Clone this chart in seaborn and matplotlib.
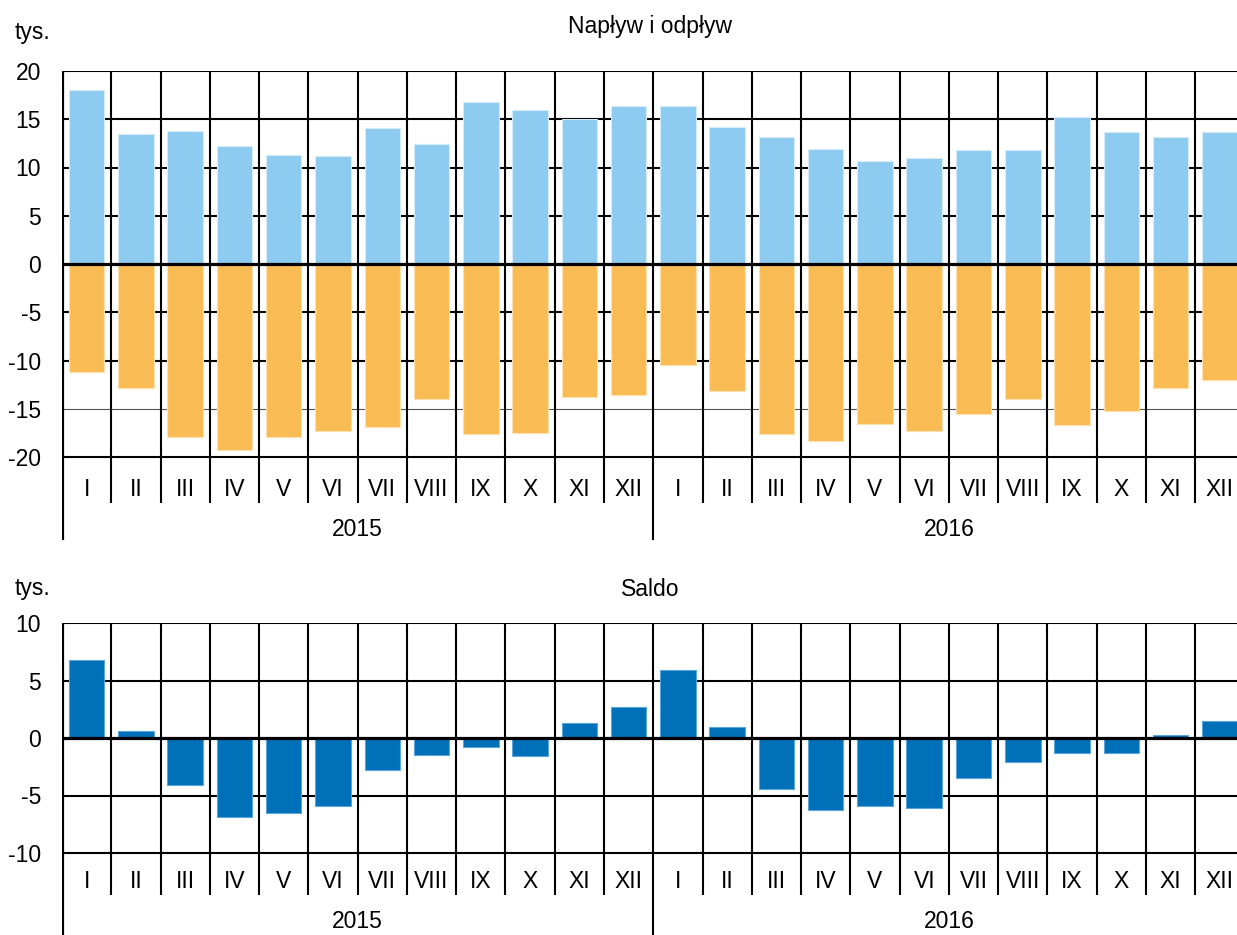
import numpy as np
import pandas as pd
import matplotlib
matplotlib.use("Agg")
import matplotlib.pyplot as plt
import seaborn as sns

# ---------- DATA ----------
MONTHS = ["I", "II", "III", "IV", "V", "VI", "VII", "VIII", "IX", "X", "XI", "XII"]
YEARS = ["2015", "2016"]
naplyw = [18.0, 13.5, 13.8, 12.2, 11.3, 11.2, 14.1, 12.4, 16.8, 16.0, 15.0, 16.4,
          16.4, 14.2, 13.2, 11.9, 10.7, 11.0, 11.8, 11.8, 15.2, 13.7, 13.2, 13.7]
odplyw = [-11.2, -12.8, -17.9, -19.3, -17.9, -17.3, -16.9, -14.0, -17.6, -17.5, -13.8, -13.6,
          -10.5, -13.2, -17.6, -18.3, -16.6, -17.3, -15.5, -14.0, -16.7, -15.2, -12.8, -12.0]
saldo = [6.8, 0.6, -4.1, -6.9, -6.5, -5.9, -2.8, -1.5, -0.8, -1.6, 1.3, 2.7,
         5.9, 1.0, -4.4, -6.3, -5.9, -6.1, -3.5, -2.1, -1.3, -1.3, 0.3, 1.5]

LIGHT_BLUE = "#8ecbf0"
ORANGE = "#f9bc55"
DARK_BLUE = "#0070b8"
# --------------------------

df = pd.DataFrame({"pos": range(len(naplyw)), "naplyw": naplyw,
                   "odplyw": odplyw, "saldo": saldo})

sns.set_style("white")
plt.rcParams["font.family"] = ["Liberation Sans", "DejaVu Sans"]
plt.rcParams["font.size"] = 16.5
plt.rcParams["text.color"] = "black"
plt.rcParams["ytick.color"] = "black"
plt.rcParams["ytick.labelcolor"] = "black"

W, H = 1237, 935
FS = 16.5
fig = plt.figure(figsize=(W / 100, H / 100), dpi=100)

n = len(naplyw)
cat_w = 49.27  # px per month
ax_left = 62 / W
ax_width = n * cat_w / W

GRID_LW = 1.5
ZERO_LW = 2.3


def setup_panel(ax, ymin, ymax, yticks, month_y, year_y, vline_bottom, thin_lines=()):
    ax.set_xlim(-0.5, n - 0.5)
    ax.set_ylim(ymin, ymax)
    ax.patch.set_alpha(0)
    for s in ax.spines.values():
        s.set_visible(False)
    ax.set_xticks([])
    ax.set_xlabel("")
    ax.set_ylabel("")
    ax.set_yticks(yticks)
    ax.set_yticklabels([str(t) for t in yticks])
    ax.tick_params(axis="y", length=0, pad=15, labelsize=FS)
    # horizontal grid
    for t in yticks:
        if t == 0:
            continue
        if t in thin_lines:
            ax.hlines(t, -0.5, n - 0.5, color="#555555", lw=0.8, zorder=1)
        else:
            ax.hlines(t, -0.5, n - 0.5, color="black", lw=GRID_LW, zorder=1)
    ax.axhline(0, color="black", lw=ZERO_LW, zorder=5)
    # month separators
    for k in range(1, n + 1):
        x = k - 0.5
        if k % 12 == 0 and k < n:
            ax.vlines(x, ymin, yticks[-1], color="black", lw=GRID_LW, zorder=1)
        else:
            ax.vlines(x, vline_bottom, yticks[-1], color="black", lw=GRID_LW, zorder=1)
    ax.vlines(-0.5, ymin, yticks[-1], color="black", lw=ZERO_LW, zorder=6)
    # multi-level category labels
    for i in range(n):
        ax.text(i, month_y, MONTHS[i % 12], ha="center", va="center", fontsize=FS)
    for j, yr in enumerate(YEARS):
        ax.text(j * 12 + 5.5, year_y, yr, ha="center", va="center", fontsize=FS)


# top panel: 20 at y=71px, -20 at y=457px
top_scale = (457 - 71) / 40.0
top_ymin = -(540 - 264) / top_scale
ax1 = fig.add_axes([ax_left, 1 - 540 / H, ax_width, (540 - 71) / H])
sns.barplot(data=df, x="pos", y="naplyw", color=LIGHT_BLUE, saturation=1, width=0.72,
            edgecolor="#d4ecfa", linewidth=0.8, ax=ax1, zorder=3)
sns.barplot(data=df, x="pos", y="odplyw", color=ORANGE, saturation=1, width=0.72,
            edgecolor="#fde0ae", linewidth=0.8, ax=ax1, zorder=3)
setup_panel(ax1, top_ymin, 20, list(range(-20, 21, 5)),
            month_y=-(490 - 264) / top_scale, year_y=-(530 - 264) / top_scale,
            vline_bottom=-(503 - 264) / top_scale, thin_lines=(-15,))

# bottom panel: 10 at y=623px, -10 at y=853px
bot_scale = (853 - 623) / 20.0
bot_ymin = -(H - 738) / bot_scale
ax2 = fig.add_axes([ax_left, 0, ax_width, (H - 623) / H])
sns.barplot(data=df, x="pos", y="saldo", color=DARK_BLUE, saturation=1, width=0.72,
            edgecolor="#5aa5dc", linewidth=0.8, ax=ax2, zorder=3)
setup_panel(ax2, bot_ymin, 10, list(range(-10, 11, 5)),
            month_y=-(882 - 738) / bot_scale, year_y=-(922 - 738) / bot_scale,
            vline_bottom=-(895 - 738) / bot_scale)

fig.text(15 / W, 1 - 33 / H, "tys.", ha="left", va="center", fontsize=FS)
fig.text(15 / W, 1 - 588 / H, "tys.", ha="left", va="center", fontsize=FS)
fig.text(650 / W, 1 - 27 / H, "Napływ i odpływ", ha="center", va="center", fontsize=FS)
fig.text(650 / W, 1 - 589 / H, "Saldo", ha="center", va="center", fontsize=FS)

fig.savefig("out.png", dpi=100)
